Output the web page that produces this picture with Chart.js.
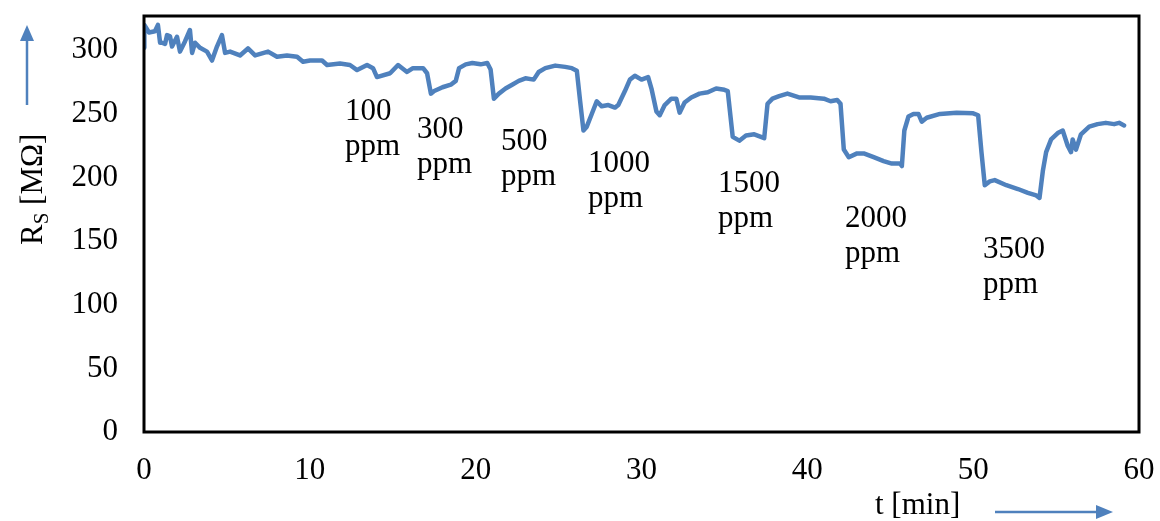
<!DOCTYPE html>
<html>
<head>
<meta charset="utf-8">
<script src="https://cdn.jsdelivr.net/npm/chart.js@4/dist/chart.umd.min.js"></script>
<style>
html,body{margin:0;padding:0;background:#fff;}
#wrap{width:1160px;height:521px;}
</style>
</head>
<body>
<div id="wrap"><canvas id="c" width="1160" height="521"></canvas></div>
<script>
// ---- data ----
const timeMin = [0,0.02,0.3,0.66,0.84,0.97,1.09,1.27,1.39,1.57,1.69,1.99,2.17,2.47,2.77,2.9,3.08,3.38,3.8,4.1,4.4,4.7,4.89,5.19,5.79,6.27,6.7,7.48,8.02,8.62,9.23,9.59,10.01,10.74,11.04,11.82,12.42,12.85,13.45,13.81,14.05,14.84,15.32,15.86,16.22,16.83,17.07,17.3,17.5,18.0,18.5,18.8,19.0,19.4,19.8,20.3,20.7,20.9,21.1,21.4,21.8,22.2,22.6,23.0,23.5,23.8,24.2,24.8,25.4,25.8,26.1,26.3,26.5,26.7,27.0,27.3,27.6,28.0,28.4,28.6,29.0,29.3,29.6,30.0,30.4,30.6,30.9,31.1,31.4,31.8,32.1,32.3,32.6,33.0,33.5,34.0,34.5,35.0,35.2,35.5,35.9,36.3,36.8,37.2,37.4,37.6,37.9,38.3,38.8,39.5,40.2,41.0,41.4,41.8,42.0,42.2,42.5,43.0,43.4,44.0,44.6,45.1,45.6,45.7,45.85,46.1,46.4,46.7,46.9,47.2,48.0,49.0,50.0,50.3,50.5,50.7,51.0,51.3,52.0,52.7,53.3,53.8,54.0,54.2,54.4,54.7,55.1,55.4,55.7,55.9,56.0,56.2,56.5,57.0,57.5,58.0,58.5,58.8,59.1];
const resistanceMOhm = [302,320,314,315,320,306,306,305,312,311,303,310.7,299,307,316,298,306,302,299,292,303,312,298,299,296,301.5,296,299,295,296,295,291,292,292,288.5,289.6,288.5,284.5,288.5,286,279,282,288.5,283,286,286,282,266,268,271,273,276,286,289,290,289,290,285,262,266,270,273,276,278,277,283,286,288,287,286,284,260,237,240,250,260,256,257,255,257,268,277,280,277,279,270,252,249,257,262,262,251,259,263,266,267,270,269,268,232,229,233,234,232,231,258,262,264,266,263,263,262,260,261,258,222,216,219,219,216,213,211,211,209,237,248,250,250,244,247,250,251,250.5,249,220,194,197,198,194,191,188,186,184,205,220,230,235,237,225,220,230,222,234,240,242,243,242,243,241];
const xTicks = [0,10,20,30,40,50,60];
const yTicks = [0,50,100,150,200,250,300];
const gasLabels = ["100","300","500","1000","1500","2000","3500"];
// anchor of each concentration label, in data units (t, value of first-line baseline)
const gasLabelAnchorT = [12.12,16.46,21.53,26.78,34.61,42.27,50.6];
const gasLabelAnchorV = [245.2,231.1,221.7,204.4,188.7,161.1,136.8];

const FONT = "'Liberation Serif','Times New Roman',serif";
const BLUE = '#4F81BD';

const points = timeMin.map((t,i)=>({x:t,y:resistanceMOhm[i]}));

const decor = {
  id:'decor',
  afterDatasetsDraw(chart){
    const ctx = chart.ctx, a = chart.chartArea;
    const xs = chart.scales.x, ys = chart.scales.y;
    ctx.save();
    // plot border
    ctx.strokeStyle = '#000';
    ctx.lineWidth = 3;
    ctx.strokeRect(a.left, a.top, a.right - a.left, a.bottom - a.top);
    // concentration labels
    ctx.fillStyle = '#000';
    ctx.font = '31px ' + FONT;
    ctx.textAlign = 'left';
    ctx.textBaseline = 'alphabetic';
    gasLabels.forEach((lab,i)=>{
      const px = xs.getPixelForValue(gasLabelAnchorT[i]);
      const py = ys.getPixelForValue(gasLabelAnchorV[i]);
      ctx.fillText(lab, px, py);
      ctx.fillText('ppm', px, py + 35);
    });
    // x axis title
    ctx.font = '31px ' + FONT;
    ctx.fillText('t [min]', 875, 514);
    // y axis title (rotated, with subscript)
    ctx.save();
    ctx.translate(42, 245);
    ctx.rotate(-Math.PI/2);
    ctx.font = '31px ' + FONT;
    let x = 0;
    ctx.fillText('R', x, 0); x += ctx.measureText('R').width;
    ctx.font = '21px ' + FONT;
    ctx.fillText('S', x, 6); x += ctx.measureText('S').width;
    ctx.font = '31px ' + FONT;
    ctx.fillText(' [M\u03A9]', x, 0);
    ctx.restore();
    // arrows
    ctx.strokeStyle = BLUE; ctx.fillStyle = BLUE; ctx.lineWidth = 2.5;
    ctx.beginPath(); ctx.moveTo(27,105); ctx.lineTo(27,38); ctx.stroke();
    ctx.beginPath(); ctx.moveTo(27,25); ctx.lineTo(20,41); ctx.lineTo(34,41); ctx.closePath(); ctx.fill();
    ctx.beginPath(); ctx.moveTo(995,512); ctx.lineTo(1099,512); ctx.stroke();
    ctx.beginPath(); ctx.moveTo(1113,512); ctx.lineTo(1096,505); ctx.lineTo(1096,519); ctx.closePath(); ctx.fill();
    ctx.restore();
  }
};

new Chart(document.getElementById('c'), {
  type:'line',
  data:{datasets:[{
    data: points,
    borderColor: BLUE,
    borderWidth: 4.5,
    pointRadius: 0,
    tension: 0,
    fill: false,
    borderJoinStyle: 'round',
    borderCapStyle: 'round'
  }]},
  options:{
    responsive:false,
    devicePixelRatio:1,
    animation:false,
    layout:{padding:{left:0,top:16,right:21,bottom:0}},
    plugins:{legend:{display:false},tooltip:{enabled:false}},
    scales:{
      x:{
        type:'linear', min:0, max:60,
        grid:{display:false, drawTicks:false},
        border:{display:false},
        afterBuildTicks(s){ s.ticks = xTicks.map(v=>({value:v})); },
        afterFit(s){ s.height = 89; s.paddingLeft = 0; s.paddingRight = 0; },
        ticks:{color:'#000', padding:20, maxRotation:0, font:{family:FONT, size:31}}
      },
      y:{
        type:'linear', min:0, max:327,
        grid:{display:false, drawTicks:false},
        border:{display:false},
        afterBuildTicks(s){ s.ticks = yTicks.map(v=>({value:v})); },
        afterFit(s){ s.width = 144; s.paddingTop = 0; s.paddingBottom = 0; },
        ticks:{color:'#000', padding:26, font:{family:FONT, size:31}}
      }
    }
  },
  plugins:[decor]
});
</script>
</body>
</html>
